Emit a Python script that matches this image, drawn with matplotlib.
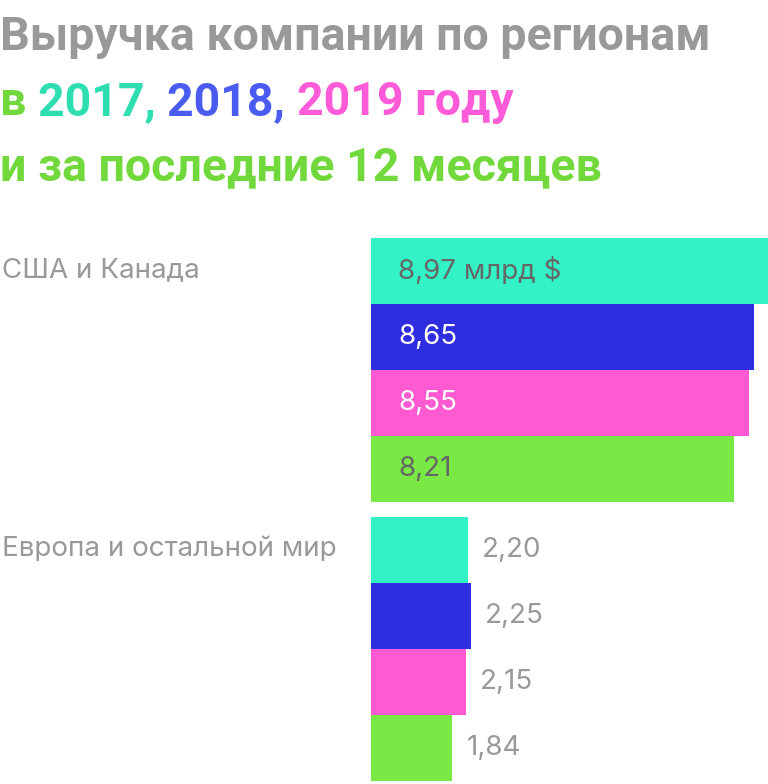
import matplotlib
matplotlib.use("Agg")
import matplotlib.pyplot as plt
import numpy as np

# Revenue by region, bn $
regions = ["США и Канада", "Европа и остальной мир"]
periods = ["2017", "2018", "2019", "12 мес"]
usa = [8.97, 8.65, 8.55, 8.21]
europe = [2.20, 2.25, 2.15, 1.84]
usa_labels = ["8,97 млрд $", "8,65", "8,55", "8,21"]
europe_labels = ["2,20", "2,25", "2,15", "1,84"]

bar_colors = ["#33F2C6", "#2E2EE0", "#FF5AD2", "#7AE845"]
inner_text = ["#666666", "#FFFFFF", "#FFFFFF", "#666666"]
gray = "#999999"

plt.rcParams["font.family"] = ["Inter", "DejaVu Sans"]

W, H = 768, 784
fig = plt.figure(figsize=(W / 100, H / 100), dpi=100)

# axes placed in pixel terms: bars start at x=371, top at y=238, bottom at y=781
ax = fig.add_axes([371 / W, (H - 781) / H, (W - 371) / W, (781 - 238) / H])
ax.set_xlim(0, 8.97)
gap = 15 / 66
ax.set_ylim(8 + gap, 0)
ax.axis("off")

for g, (vals, labels) in enumerate([(usa, usa_labels), (europe, europe_labels)]):
    for i, v in enumerate(vals):
        y = g * (4 + gap) + i + 0.5
        ax.barh(y, v, height=1.0, color=bar_colors[i], linewidth=0)
        if g == 0:
            ax.annotate(labels[i], (0, y), xytext=(27 * 0.72, 0), textcoords="offset points",
                        va="center", ha="left", fontsize=20, color=inner_text[i])
        else:
            ax.annotate(labels[i], (v, y), xytext=(14 * 0.72, 0), textcoords="offset points",
                        va="center", ha="left", fontsize=20, color=gray)
    fig.text(2 / W, 1 - (270 + g * (4 + gap) * 66) / H, regions[g], fontsize=20,
             color=gray, va="center", ha="left")

# title, drawn piece by piece so each part gets its colour
title_lines = [
    [("Выручка компании по регионам", gray)],
    [("в ", "#72D93C"), ("2017, ", "#2EDDB0"), ("2018, ", "#4A5CF0"), ("2019 году", "#FF5AD8")],
    [("и за последние 12 месяцев", "#72D93C")],
]
baselines = [50, 115, 180]
fig.canvas.draw()
renderer = fig.canvas.get_renderer()
for line, base in zip(title_lines, baselines):
    x = 0
    for txt, col in line:
        t = fig.text(x / W, 1 - base / H, txt, fontsize=33.5, fontweight="bold",
                     family=["Roboto", "DejaVu Sans"], color=col, va="baseline", ha="left")
        bb = t.get_window_extent(renderer)
        x += bb.width

fig.savefig("out.png", dpi=100)
